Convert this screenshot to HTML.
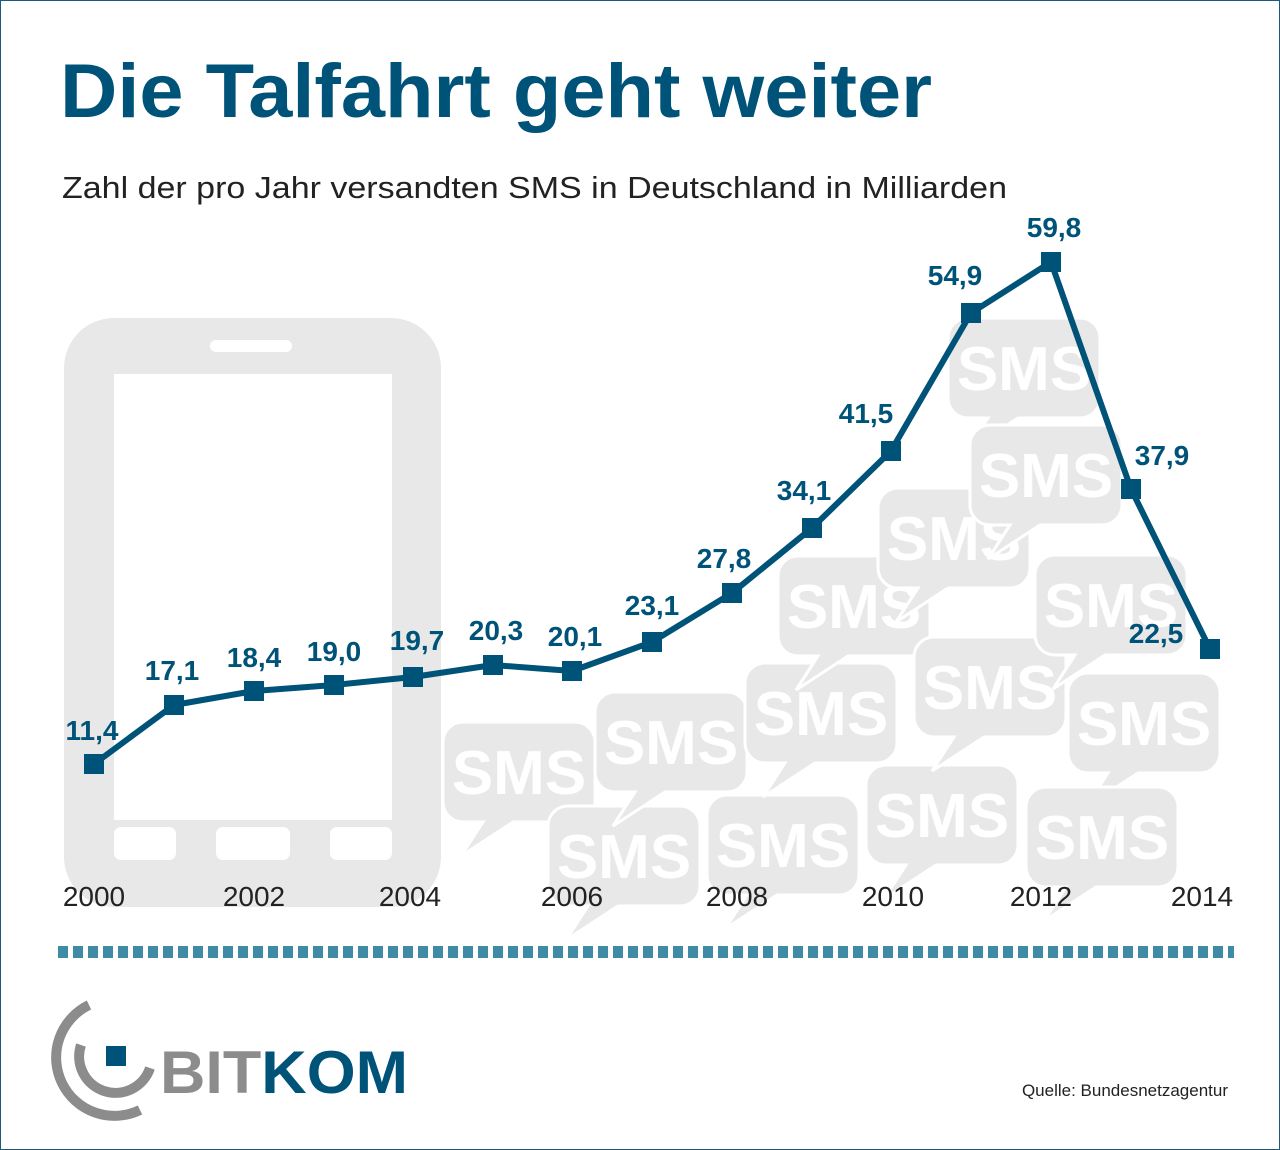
<!DOCTYPE html>
<html><head><meta charset="utf-8"><style>
body{margin:0;background:#fff}
svg{display:block}
text{font-family:"Liberation Sans",sans-serif}
</style></head><body>
<svg width="1280" height="1150" viewBox="0 0 1280 1150">
<rect x="0.5" y="0.5" width="1279" height="1149" fill="#fff" stroke="#1d5a78"/>
<text x="60" y="117" font-size="76" font-weight="bold" fill="#005378" textLength="872" lengthAdjust="spacingAndGlyphs">Die Talfahrt geht weiter</text>
<text x="62" y="198" font-size="31" fill="#222" textLength="945" lengthAdjust="spacingAndGlyphs">Zahl der pro Jahr versandten SMS in Deutschland in Milliarden</text>
<rect x="64" y="318" width="377" height="589" rx="50" fill="#e8e8e8"/>
<rect x="114" y="374" width="278" height="446" fill="#fff"/>
<rect x="210" y="340" width="82" height="12" rx="6" fill="#fff"/>
<rect x="114" y="827" width="62" height="33" rx="7" fill="#fff"/>
<rect x="216" y="827" width="74" height="33" rx="7" fill="#fff"/>
<rect x="330" y="827" width="62" height="33" rx="7" fill="#fff"/>
<defs>
<g id="b">
<path d="M20,0 H132 a20,20 0 0 1 20,20 V80 a20,20 0 0 1 -20,20 H70 L18,134 L40,100 H20 a20,20 0 0 1 -20,-20 V20 a20,20 0 0 1 20,-20Z" fill="#e8e8e8" stroke="#fff" stroke-width="3"/>
<text x="76" y="72" font-size="62" font-weight="bold" fill="#fff" text-anchor="middle">SMS</text>
</g>
</defs>
<use href="#b" x="443" y="722"/>
<use href="#b" x="548" y="806"/>
<use href="#b" x="595" y="692"/>
<use href="#b" x="707" y="795"/>
<use href="#b" x="745" y="663"/>
<use href="#b" x="778" y="556"/>
<use href="#b" x="866" y="765"/>
<use href="#b" x="878" y="488"/>
<use href="#b" x="948" y="318"/>
<use href="#b" x="970" y="425"/>
<use href="#b" x="914" y="637"/>
<use href="#b" x="1035" y="555"/>
<use href="#b" x="1068" y="673"/>
<use href="#b" x="1026" y="787"/>
<polyline fill="none" stroke="#005378" stroke-width="6" stroke-linejoin="round" points="94,764 174,705 254,691 334,685 413,677 493,665 572,671 652,642 732,593 812,528 891,451 971,313 1051,262 1131,489 1210,649"/>
<g fill="#005378">
<rect x="84" y="754" width="20" height="20"/><rect x="164" y="695" width="20" height="20"/><rect x="244" y="681" width="20" height="20"/><rect x="324" y="675" width="20" height="20"/><rect x="403" y="667" width="20" height="20"/><rect x="483" y="655" width="20" height="20"/><rect x="562" y="661" width="20" height="20"/><rect x="642" y="632" width="20" height="20"/><rect x="722" y="583" width="20" height="20"/><rect x="802" y="518" width="20" height="20"/><rect x="881" y="441" width="20" height="20"/><rect x="961" y="303" width="20" height="20"/><rect x="1041" y="252" width="20" height="20"/><rect x="1121" y="479" width="20" height="20"/><rect x="1200" y="639" width="20" height="20"/>
</g>
<g font-size="28" font-weight="bold" fill="#005378" text-anchor="middle">
<text x="92" y="740">11,4</text><text x="172" y="680">17,1</text><text x="254" y="667">18,4</text><text x="334" y="661">19,0</text><text x="417" y="650">19,7</text><text x="496" y="640">20,3</text><text x="575" y="646">20,1</text><text x="652" y="615">23,1</text><text x="724" y="568">27,8</text><text x="804" y="500">34,1</text><text x="866" y="423">41,5</text><text x="955" y="285">54,9</text><text x="1054" y="237">59,8</text><text x="1162" y="465">37,9</text><text x="1156" y="643">22,5</text>
</g>
<g font-size="28" fill="#222" text-anchor="middle">
<text x="94" y="906">2000</text><text x="254" y="906">2002</text><text x="410" y="906">2004</text><text x="572" y="906">2006</text><text x="737" y="906">2008</text><text x="893" y="906">2010</text><text x="1041" y="906">2012</text><text x="1202" y="906">2014</text>
</g>
<line x1="58" y1="952" x2="1234" y2="952" stroke="#3f8aa5" stroke-width="12" stroke-dasharray="10,5"/>
<path d="M89,1005 A58,58 0 0 0 140,1110" fill="none" stroke="#8c8c8c" stroke-width="10"/>
<path d="M81,1045 A33,33 0 0 0 150,1068" fill="none" stroke="#8c8c8c" stroke-width="10"/>
<rect x="106" y="1046" width="20" height="20" fill="#005378"/>
<text x="160" y="1093" font-size="60" font-weight="bold" textLength="248" lengthAdjust="spacingAndGlyphs"><tspan fill="#8c8c8c">BIT</tspan><tspan fill="#005378">KOM</tspan></text>
<text x="1228" y="1096" font-size="17" fill="#222" text-anchor="end">Quelle: Bundesnetzagentur</text>
</svg>
</body></html>
